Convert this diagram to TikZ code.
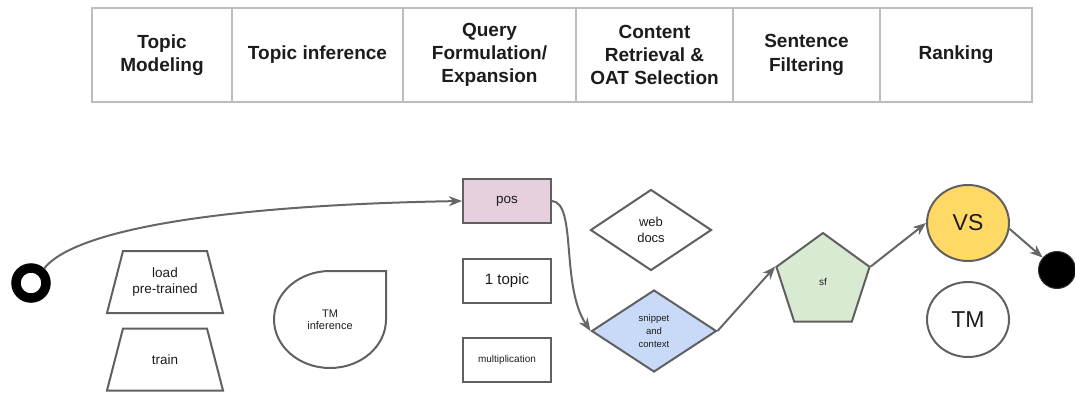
\documentclass[tikz,border=0pt]{standalone}
\usepackage{fontspec}
\setmainfont{Liberation Sans}
\usetikzlibrary{shapes.geometric,arrows.meta}

\definecolor{tablegray}{HTML}{BDBDBD}
\definecolor{stroke}{HTML}{606060}
\definecolor{linegray}{HTML}{666666}
\definecolor{ink}{HTML}{1C1C1C}
\definecolor{posfill}{HTML}{E6D0DE}
\definecolor{snipfill}{HTML}{C9DAF8}
\definecolor{sffill}{HTML}{D9EAD3}
\definecolor{vsfill}{HTML}{FFD966}

\begin{document}
\begin{tikzpicture}[x=1pt,y=1pt,
  cell/.style={draw=tablegray, line width=1.4pt, minimum height=94pt,
    inner sep=0pt, outer sep=0pt, align=center, text=ink,
    font=\fontsize{19}{23.3}\selectfont\bfseries},
  box/.style={draw=stroke, line width=2pt, inner sep=0pt, text=ink, align=center},
  rectbox/.style={box, rectangle, minimum width=88pt, minimum height=44pt},
  trapbody/.style={rectangle, minimum width=116pt, minimum height=62pt, inner sep=0pt,
    outer sep=0pt, text=ink, align=center, font=\fontsize{13.5}{16}\selectfont},
  trapline/.style={draw=stroke, line width=2pt, line join=miter},
  conn/.style={draw=linegray, line width=2pt, -{Stealth[length=13pt,width=10pt,inset=4pt]}},
]
\useasboundingbox (0,0) rectangle (1075,392);

% stage header row
\node[cell, minimum width=140pt] (h1) at (162,337)   {Topic\\Modeling};
\node[cell, minimum width=171pt] (h2) at (317.5,337) {Topic inference};
\node[cell, minimum width=173pt] (h3) at (489.5,337) {Query\\Formulation/\\Expansion};
\node[cell, minimum width=157pt] (h4) at (654.5,337) {Content\\Retrieval \&\\OAT Selection};
\node[cell, minimum width=147pt] (h5) at (806.5,337) {Sentence\\Filtering};
\node[cell, minimum width=152pt] (h6) at (956,337)   {Ranking};

% start and end markers
\node[circle, draw=black, line width=9.5pt, fill=white, minimum size=30pt, inner sep=0pt] (start) at (31,109) {};
\node[circle, fill=black, draw=black!80, line width=1pt, minimum size=37pt, inner sep=0pt] (finish) at (1057,122) {};

% topic modeling (trapezoids, 16pt inset at the top)
\node[trapbody] (load)  at (165,110)  {load\\pre-trained};
\draw[trapline] (load.south west) -- (load.south east) -- ([xshift=-16pt]load.north east)
  -- ([xshift=16pt]load.north west) -- cycle;
\node[trapbody] (train) at (165,32.5) {train};
\draw[trapline] (train.south west) -- (train.south east) -- ([xshift=-16pt]train.north east)
  -- ([xshift=16pt]train.north west) -- cycle;

% topic inference (drop shape)
\node[rectangle, minimum width=112pt, minimum height=97pt, inner sep=0pt, outer sep=0pt,
  text=ink, align=center, font=\fontsize{11}{12}\selectfont] (tmi) at (330,72.5) {TM\\inference};
\draw[draw=stroke, line width=2pt] (tmi.north) -- (tmi.north east) -- (tmi.east)
  arc[start angle=0, end angle=-270, x radius=56pt, y radius=48.5pt] -- cycle;

% query formulation
\node[rectbox, fill=posfill, font=\fontsize{13.5}{16}\selectfont] (pos) at (507,191) {pos};
\node[rectbox, font=\fontsize{15}{17}\selectfont] (topic) at (507,111) {1 topic};
\node[rectbox, font=\fontsize{10}{12}\selectfont] (mult) at (507,32) {multiplication};

% content retrieval
\node[box, diamond, minimum width=121pt, minimum height=81pt,
  font=\fontsize{13}{16}\selectfont] (web) at (651,162) {web\\docs};
\node[box, diamond, fill=snipfill, minimum width=125pt, minimum height=82pt,
  font=\fontsize{9.5}{13}\selectfont] (snip) at (654,61) {snippet\\and\\context};

% sentence filtering
\node[box, regular polygon, regular polygon sides=5, minimum size=98pt, fill=sffill,
  font=\fontsize{10}{12}\selectfont] (sf) at (823,110) {sf};

% ranking
\node[box, ellipse, fill=vsfill, minimum width=82pt, minimum height=76pt,
  font=\fontsize{23}{26}\selectfont] (vs) at (968,169) {VS};
\node[box, ellipse, minimum width=82pt, minimum height=75pt,
  font=\fontsize{23}{26}\selectfont] (tm) at (968,72.5) {TM};

% connectors
\draw[conn] (start.48) .. controls +(32,40) and +(-233,-4) .. (pos.west);
\draw[conn] (pos.east) .. controls +(25,-2) and +(-30,45) .. (snip.west);
\draw[conn] (snip.east) -- (sf.corner 2);
\draw[conn] (sf.corner 5) -- (vs.west);
\draw[conn] (vs.-8) -- (finish);
\end{tikzpicture}
\end{document}
